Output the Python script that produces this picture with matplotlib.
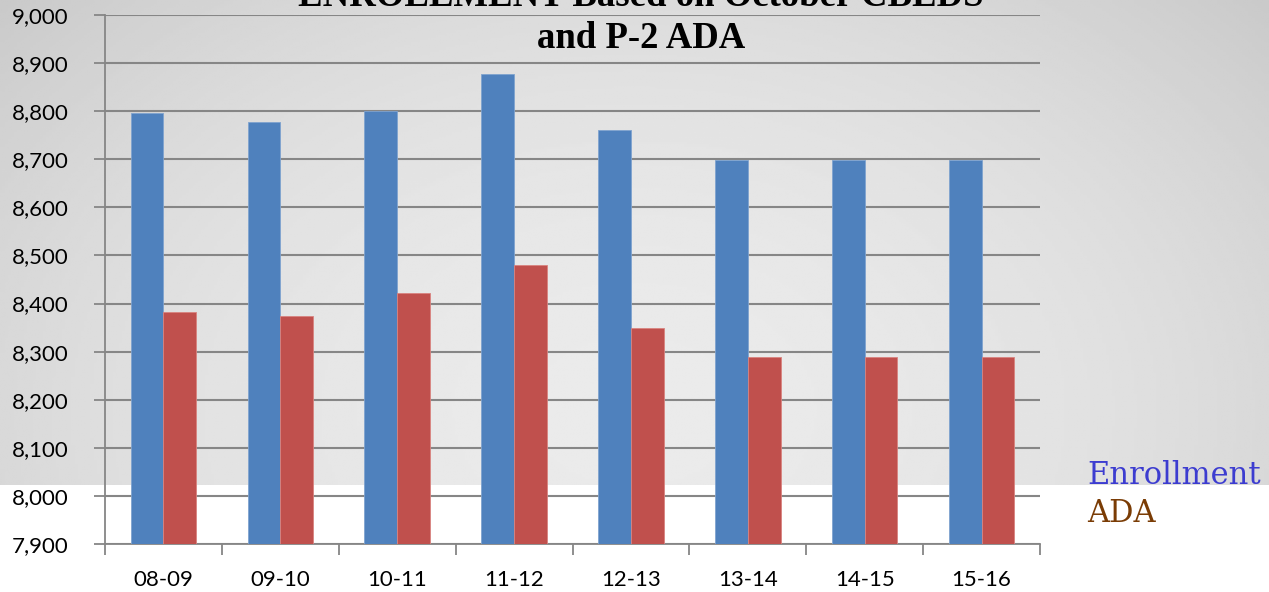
import numpy as np
import matplotlib.pyplot as plt

# Datos
periodos = ['08-09', '09-10', '10-11', '11-12', '12-13', '13-14', '14-15', '15-16']
enrollment = [8796, 8777, 8801, 8877, 8760, 8699, 8699, 8699]
ada = [8383, 8374, 8422, 8480, 8349, 8289, 8289, 8289]

fig = plt.figure(figsize=(12.69, 5.92), dpi=100)
fig.patch.set_facecolor('white')

# fondo gris degradado (parte superior)
bg = fig.add_axes([0, 1 - 485 / 592, 1, 485 / 592], zorder=0)
xx, yy = np.meshgrid(np.linspace(0, 1, 400), np.linspace(0, 1, 200))
d = np.sqrt(((xx - 0.5) / 0.75) ** 2 + ((yy - 0.85) / 1.4) ** 2)
g = 0.92 - 0.16 * d ** 2
bg.imshow(g, cmap='gray', vmin=0, vmax=1, aspect='auto', extent=[0, 1, 0, 1])
bg.set_axis_off()

ax = fig.add_axes([105 / 1269, 1 - 544 / 592, (1040 - 105) / 1269, (544 - 15) / 592], zorder=1)
ax.set_facecolor('none')

x = np.arange(len(periodos))
w = 0.28
ax.bar(x - w / 2, enrollment, w, color='#4f81bd', edgecolor='#7fa3cf', linewidth=0.6, zorder=3)
ax.bar(x + w / 2, ada, w, color='#c0504d', edgecolor='#d9837f', linewidth=0.6, zorder=3)

ax.set_ylim(7900, 9000)
ax.set_xlim(-0.5, len(periodos) - 0.5)
ax.set_yticks(np.arange(7900, 9001, 100))
ax.set_yticklabels([f'{v:,}' for v in range(7900, 9001, 100)], fontsize=16, family='Lato')
ax.set_xticks(x)
ax.set_xticklabels(periodos, fontsize=16, family='Lato')
ax.set_xticks(np.arange(-0.5, len(periodos), 1), minor=True)
ax.tick_params(axis='x', which='major', length=0, pad=19)
ax.tick_params(axis='x', which='minor', length=8, color='#868686', width=1.3)
ax.tick_params(axis='y', length=8, color='#868686', width=1.3, pad=18)
ax.grid(axis='y', color='#868686', linewidth=1.5, zorder=1)
for s in ['top', 'right']:
    ax.spines[s].set_visible(False)
for s in ['left', 'bottom']:
    ax.spines[s].set_color('#868686')
    ax.spines[s].set_linewidth(1.3)

# titulo (primera linea cortada arriba)
fig.text(641 / 1269, 1 - (-4) / 592, 'ENROLLMENT Based on October CBEDS',
         ha='center', va='center', fontsize=26.5, fontweight='bold',
         family='Liberation Serif', zorder=5)
fig.text(641 / 1269, 1 - 38 / 592, 'and P-2 ADA',
         ha='center', va='center', fontsize=26.5, fontweight='bold',
         family='Liberation Serif', zorder=5)

fig.text(1087 / 1269, 1 - 476 / 592, 'Enrollment', color='#3c3cd0', fontsize=22,
         family='DejaVu Serif', va='center', ha='left', zorder=5)
fig.text(1087 / 1269, 1 - 513 / 592, 'ADA', color='#7a3c05', fontsize=22,
         family='DejaVu Serif', va='center', ha='left', zorder=5)

fig.savefig('out.png', dpi=100)
